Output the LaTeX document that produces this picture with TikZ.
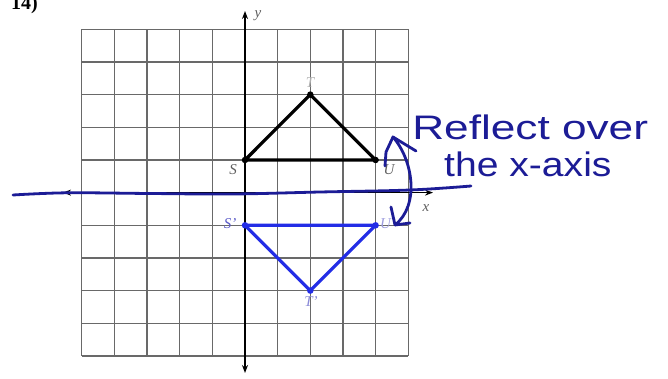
\documentclass[tikz,border=0pt]{standalone}
\usepackage{fontspec}
\setmainfont{Liberation Serif}
\newfontfamily\handfont{Liberation Sans}
\usetikzlibrary{arrows.meta}
\definecolor{handblue}{RGB}{28,28,150}
\definecolor{triblue}{RGB}{35,45,230}
\definecolor{gridgray}{RGB}{105,105,105}
\definecolor{lblgray}{RGB}{95,95,95}
\definecolor{lblblue}{RGB}{90,90,200}
\tikzset{
  gridline/.style={draw=gridgray, line width=1.2pt},
  axisline/.style={draw=black, line width=1.5pt, {Stealth[length=8pt,width=6pt]}-{Stealth[length=8pt,width=6pt]}},
  blacktri/.style={draw=black, line width=3.2pt, line join=round},
  bluetri/.style={draw=triblue, line width=3.2pt, line join=round},
  vdot/.style={circle, inner sep=0pt, minimum size=6.5pt},
  ptlabel/.style={font=\itshape\fontsize{15}{15}\selectfont, inner sep=0pt},
  hand/.style={draw=handblue, line width=2.8pt, line cap=round, line join=round},
  handtext/.style={text=handblue, inner sep=0pt, anchor=base west, font=\handfont\fontsize{34}{36}\selectfont}
}
\begin{document}
\begin{tikzpicture}[x=1pt,y=-1pt]
\useasboundingbox (0,0) rectangle (668,379);
\fill[white] (0,0) rectangle (668,379);
% problem number (cut off at top, as in the reference)
\node[anchor=base west, inner sep=0pt, font=\bfseries\fontsize{20}{20}\selectfont] (num) at (11,10) {14)};
% grid
\foreach \i in {0,...,10} {
  \draw[gridline] ({81.7+32.66*\i},29.3) -- ({81.7+32.66*\i},355.9);
  \draw[gridline] (81.7,{29.3+32.66*\i}) -- (408.3,{29.3+32.66*\i});
}
% axes
\coordinate (ytop) at (245,11);
\coordinate (ybot) at (245,373);
\coordinate (xleft) at (63,192.6);
\coordinate (xright) at (433,192.6);
\draw[axisline] (ybot) -- (ytop);
\draw[axisline] (xleft) -- (xright);
\node[ptlabel, text=lblgray] (ylab) at (258,16) {y};
\node[ptlabel, text=lblgray] (xlab) at (426,208) {x};
% original triangle
\coordinate (S) at (245,160);
\coordinate (T) at (310.3,94.6);
\coordinate (U) at (375.6,160);
\draw[blacktri] (S) -- (T) -- (U) -- cycle;
\foreach \p in {S,T,U} \node[vdot, fill=black] at (\p) {};
\node[ptlabel, text=lblgray] (Sl) at (233,170) {S};
\node[ptlabel, text=lblgray!50] (Tl) at (310,83) {T};
\node[ptlabel, text=lblgray] (Ul) at (389,170) {U};
% image triangle
\coordinate (Sp) at (245,225.3);
\coordinate (Tp) at (310.3,290.6);
\coordinate (Up) at (375.6,225.3);
\draw[bluetri] (Sp) -- (Tp) -- (Up) -- cycle;
\foreach \p in {Sp,Tp,Up} \node[vdot, fill=triblue] at (\p) {};
\node[ptlabel, text=lblblue] (Spl) at (230,224) {S'};
\node[ptlabel, text=lblblue!70] (Tpl) at (311,302) {T'};
\node[ptlabel, text=lblblue!60] (Upl) at (388,224) {U'};
% hand-drawn reflection line
\draw[hand] plot[smooth, tension=0.6] coordinates {(13,195) (67,192.8) (150,193.5) (233,194) (320,192) (410,190) (471,186)};
% curved double arrow
\coordinate (atop) at (393,137);
\coordinate (abot) at (395,225);
\draw[hand] (atop) .. controls (413,160) and (420,205) .. (abot);
\draw[hand] (385,166) -- (386,152) -- (atop) -- (416,151);
\draw[hand] (391,207) -- (abot) -- (410,223);
% handwritten note
\node[handtext, xscale=1.3] (note1) at (412,140) {Reflect over};
\node[handtext, xscale=1.15] (note2) at (444,177) {the x-axis};
\end{tikzpicture}
\end{document}
